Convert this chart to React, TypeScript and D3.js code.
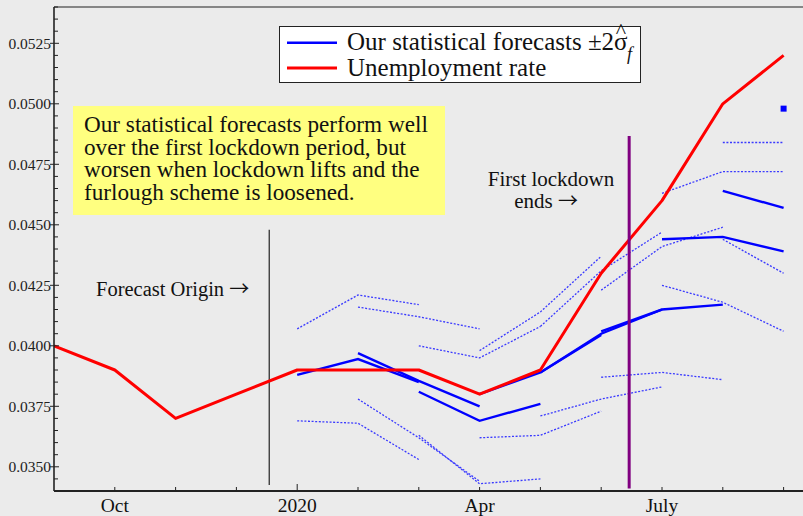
import React from "react";
import * as d3 from "d3";

// ---- data ----
// month index: 0 = Sep 2019 ... 12 = Sep 2020
const monthIndex = [0, 1, 2, 3, 4, 5, 6, 7, 8, 9, 10, 11, 12];
const unemployment = [0.04, 0.039, 0.037, 0.038, 0.039, 0.039, 0.039, 0.038, 0.039, 0.043, 0.046, 0.05, 0.052];

const forecastStart = [4, 5, 6, 7, 8, 9, 10, 11, 12];
const forecastMean = [
  [0.0388, 0.03945, 0.0385],
  [0.0397, 0.03855, 0.0375],
  [0.0381, 0.0369, 0.0376],
  [0.038, 0.0389, 0.04045],
  [0.0389, 0.0405, 0.0415],
  [0.0406, 0.0415, 0.0417],
  [0.0444, 0.0445, 0.0439],
  [0.0464, 0.0457],
  [0.0498],
];
const forecastUpper = [
  [0.0407, 0.0421, 0.0417],
  [0.0416, 0.0412, 0.0407],
  [0.04, 0.0395, 0.0408],
  [0.0398, 0.0414, 0.0437],
  [0.0408, 0.0431, 0.0447],
  [0.0423, 0.0441, 0.0449],
  [0.0463, 0.0472, 0.0472],
  [0.0484, 0.0484],
  [],
];
const forecastLower = [
  [0.0369, 0.0368, 0.0353],
  [0.0378, 0.0362, 0.0344],
  [0.0363, 0.0343, 0.0345],
  [0.0362, 0.0363, 0.0373],
  [0.0371, 0.0378, 0.0383],
  [0.0387, 0.0389, 0.0386],
  [0.0425, 0.0418, 0.0406],
  [0.0444, 0.043],
  [],
];

const yTicks = [0.035, 0.0375, 0.04, 0.0425, 0.045, 0.0475, 0.05, 0.0525];
const xTickMonths = [1, 2, 3, 4, 5, 6, 7, 8, 9, 10, 11, 12];
const xLabelMonths = [1, 4, 7, 10];
const xLabelTexts = ["Oct", "2020", "Apr", "July"];
const yearTickMonths = [4];

const forecastOriginAt = 3.54;
const forecastOriginRange = [0.03425, 0.0448];
const lockdownEndAt = 9.46;
const lockdownEndRange = [0.0341, 0.04867];

const boxLines = [
  "Our statistical forecasts perform well",
  "over the first lockdown period, but",
  "worsen when lockdown lifts and the",
  "furlough scheme is loosened.",
];

const FONT = "'Liberation Serif', 'Times New Roman', serif";
const ARROW_FONT = "'Noto Sans CJK JP', 'DejaVu Sans', sans-serif";

export default function App() {
  const W = 803;
  const H = 516;
  const left = 54;
  const top = 7;
  const bottom = 491;
  const x = d3.scaleLinear().domain([0, 12]).range([left, 783.6]);
  const y = d3.scaleLinear().domain([0.034, 0.054]).range([bottom, top]);

  const line = d3
    .line<[number, number]>()
    .x((d) => x(d[0]))
    .y((d) => y(d[1]));

  const minorTicks = d3.range(0.0345, 0.0541, 0.0005).filter(
    (v) => !yTicks.some((t) => Math.abs(t - v) < 1e-7)
  );

  const series = (start: number, vals: number[]) =>
    vals.map((v, i) => [start + i, v] as [number, number]);

  const blue = "#0000ff";
  const dotBlue = "#3a3aff";

  return (
    <div style={{ position: "absolute", left: 0, top: 0, width: W, height: H }}>
      <svg width={W} height={H} style={{ display: "block", fontFamily: FONT }}>
        <defs>
          <clipPath id="plotclip">
            <rect x={left} y={top} width={W - left} height={bottom - top} />
          </clipPath>
        </defs>
        <rect x={0} y={0} width={W} height={H} fill="#ebebeb" />

        {/* frame */}
        <line x1={left} x2={W} y1={top} y2={top} stroke="#222" strokeWidth={1.2} />

        {/* annotation box */}
        <rect x={73} y={106} width={372} height={109} fill="#ffff80" />
        {boxLines.map((t, i) => (
          <text key={i} x={84} y={132 + i * 22.6} fontSize={23.2} fill="#111">
            {t}
          </text>
        ))}

        {/* Forecast origin */}
        <line
          x1={x(forecastOriginAt)}
          x2={x(forecastOriginAt)}
          y1={y(forecastOriginRange[0])}
          y2={y(forecastOriginRange[1])}
          stroke="#222"
          strokeWidth={1.2}
        />
        <text x={96} y={296} fontSize={20.5} fill="#111">
          Forecast Origin{" "}
          <tspan fontFamily={ARROW_FONT} fontSize={20}>
            →
          </tspan>
        </text>

        {/* lockdown end */}
        <text x={551} y={185.5} fontSize={21} fill="#111" textAnchor="middle">
          First lockdown
        </text>
        <text x={546} y={207.5} fontSize={21} fill="#111" textAnchor="middle">
          ends{" "}
          <tspan fontFamily={ARROW_FONT} fontSize={20}>
            →
          </tspan>
        </text>

        <g clipPath="url(#plotclip)">
          {/* bands */}
          {forecastStart.map((s, i) => (
            <g key={"b" + i}>
              {forecastUpper[i].length > 1 && (
                <path
                  d={line(series(s, forecastUpper[i])) || ""}
                  fill="none"
                  stroke={dotBlue}
                  strokeWidth={1.3}
                  strokeDasharray="2,1.6"
                />
              )}
              {forecastLower[i].length > 1 && (
                <path
                  d={line(series(s, forecastLower[i])) || ""}
                  fill="none"
                  stroke={dotBlue}
                  strokeWidth={1.3}
                  strokeDasharray="2,1.6"
                />
              )}
            </g>
          ))}
          {/* forecasts */}
          {forecastStart.map((s, i) =>
            forecastMean[i].length > 1 ? (
              <path
                key={"m" + i}
                d={line(series(s, forecastMean[i])) || ""}
                fill="none"
                stroke={blue}
                strokeWidth={2.4}
              />
            ) : (
              <rect
                key={"m" + i}
                x={x(s) - 3}
                y={y(forecastMean[i][0]) - 3}
                width={6}
                height={6}
                fill={blue}
              />
            )
          )}
          {/* unemployment */}
          <path
            d={line(monthIndex.map((m, i) => [m, unemployment[i]] as [number, number])) || ""}
            fill="none"
            stroke="#ff0000"
            strokeWidth={3}
            strokeLinejoin="round"
          />
        </g>

        {/* purple line */}
        <line
          x1={x(lockdownEndAt)}
          x2={x(lockdownEndAt)}
          y1={y(lockdownEndRange[0])}
          y2={y(lockdownEndRange[1])}
          stroke="#800080"
          strokeWidth={3}
        />

        {/* y axis */}
        <line x1={left} x2={left} y1={top} y2={bottom} stroke="#222" strokeWidth={1.6} />
        {yTicks.map((t) => (
          <g key={"yt" + t}>
            <line x1={left - 4} x2={left + 5} y1={y(t)} y2={y(t)} stroke="#222" strokeWidth={1} />
            <text
              x={left - 3}
              y={y(t)}
              dy="0.35em"
              textAnchor="end"
              fontSize={15.5}
              fill="#222"
            >
              {d3.format(".4f")(t)}
            </text>
          </g>
        ))}
        {minorTicks.map((t, i) => (
          <line key={"ym" + i} x1={left} x2={left + 4} y1={y(t)} y2={y(t)} stroke="#222" strokeWidth={1} />
        ))}

        {/* x axis */}
        <line x1={left} x2={W} y1={bottom} y2={bottom} stroke="#222" strokeWidth={2} />
        {xTickMonths.map((m) => (
          <line
            key={"xt" + m}
            x1={x(m)}
            x2={x(m)}
            y1={bottom}
            y2={bottom - (yearTickMonths.includes(m) ? 7 : 4)}
            stroke="#222"
            strokeWidth={1}
          />
        ))}
        {xLabelMonths.map((m, i) => (
          <text key={"xl" + m} x={x(m)} y={512} textAnchor="middle" fontSize={19.5} fill="#111">
            {xLabelTexts[i]}
          </text>
        ))}

        {/* legend */}
        <rect x={279.5} y={26.5} width={361} height={56} fill="#ffffff" stroke="#222" strokeWidth={1} />
        <line x1={287} x2={337} y1={42.7} y2={42.7} stroke={blue} strokeWidth={2.4} />
        <line x1={287} x2={337} y1={68} y2={68} stroke="#ff0000" strokeWidth={3} />
        <text x={347} y={50} fontSize={25} fill="#111">
          Our statistical forecasts ±2σ
        </text>
        <text x={621} y={37.5} fontSize={22} fill="#111" textAnchor="middle">
          ^
        </text>
        <text x={627} y={60} fontSize={18} fontStyle="italic" fill="#111">
          f
        </text>
        <text x={347} y={76} fontSize={25} fill="#111">
          Unemployment rate
        </text>
      </svg>
    </div>
  );
}
